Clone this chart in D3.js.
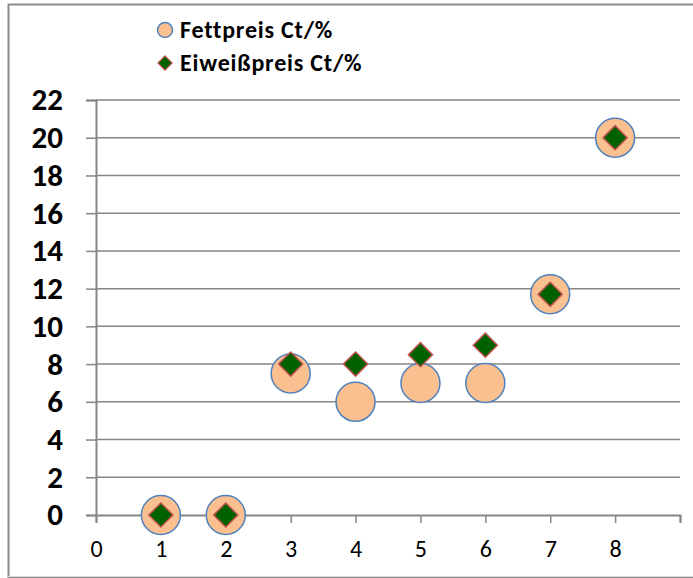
<!DOCTYPE html>
<html>
<head>
<meta charset="utf-8">
<script src="https://cdn.jsdelivr.net/npm/d3@7"></script>
<style>
  body { margin: 0; background: #fff; }
  svg text { font-family: Calibri, Carlito, "Liberation Sans", "Open Sans", sans-serif; }
</style>
</head>
<body>
<svg id="chart" width="693" height="578"></svg>
<script>
const xValues = [1, 2, 3, 4, 5, 6, 7, 8];
const fettpreis = [0, 0, 7.5, 6, 7, 7, 11.7, 20];
const eiweisspreis = [0, 0, 8, 8, 8.5, 9, 11.7, 20];
const seriesNames = ["Fettpreis Ct/%", "Eiweißpreis Ct/%"];
const xTicks = [0, 1, 2, 3, 4, 5, 6, 7, 8, 9];
const yTicks = [0, 2, 4, 6, 8, 10, 12, 14, 16, 18, 20, 22];

const svg = d3.select("#chart"),
      width = 693,
      height = 578;

const axisColor = "#868686";

// outer chart border
svg.append("rect")
  .attr("x", 8.5).attr("y", 4.5)
  .attr("width", 700).attr("height", 572.5)
  .attr("fill", "none")
  .attr("stroke", "#8c8c8c")
  .attr("stroke-width", 2);
svg.append("line")
  .attr("x1", 8).attr("x2", width)
  .attr("y1", 576.5).attr("y2", 576.5)
  .attr("stroke", "#d9d9d9");

const xScale = d3.scaleLinear().domain([0, 9]).range([96, 680]);
const yScale = d3.scaleLinear().domain([0, 22]).range([515, 100]);

// gridlines
svg.append("g")
  .selectAll("line")
  .data(yTicks.filter(d => d > 0))
  .enter()
  .append("line")
  .attr("x1", xScale(0)).attr("x2", xScale(9))
  .attr("y1", d => yScale(d)).attr("y2", d => yScale(d))
  .attr("stroke", axisColor)
  .attr("stroke-width", 1.5);

const yAxis = d3.axisLeft(yScale).tickValues(yTicks).tickSize(10).tickPadding(23);
const xAxis = d3.axisBottom(xScale).tickValues(xTicks).tickSize(8).tickPadding(17)
  .tickFormat(d => d === 9 ? "" : d);

const gy = svg.append("g")
  .attr("transform", `translate(${xScale(0)},0)`)
  .call(yAxis);
gy.selectAll("text")
  .attr("font-size", 31)
  .attr("font-weight", "bold")
  .attr("fill", "#000");

const gx = svg.append("g")
  .attr("transform", `translate(0,${yScale(0)})`)
  .call(xAxis);
gx.selectAll("text")
  .attr("font-size", 24)
  .attr("fill", "#000");

[gx, gy].forEach(g => {
  g.select(".domain").attr("stroke", axisColor).attr("stroke-width", 2);
  g.selectAll(".tick line").attr("stroke", axisColor).attr("stroke-width", 1.5);
});

const diamond = d3.symbol().type(d3.symbolSquare).size(290);

// Fettpreis circles
svg.append("g")
  .selectAll("circle")
  .data(xValues.map((x, i) => ({ x, y: fettpreis[i] })))
  .enter()
  .append("circle")
  .attr("cx", d => xScale(d.x))
  .attr("cy", d => yScale(d.y))
  .attr("r", 19.5)
  .attr("fill", "#fac090")
  .attr("stroke", "#4f81bd")
  .attr("stroke-width", 1.5);

// Eiweißpreis diamonds
svg.append("g")
  .selectAll("path")
  .data(xValues.map((x, i) => ({ x, y: eiweisspreis[i] })))
  .enter()
  .append("path")
  .attr("d", diamond)
  .attr("transform", d => `translate(${xScale(d.x)},${yScale(d.y)}) rotate(45)`)
  .attr("fill", "#006100")
  .attr("stroke", "#c0504d")
  .attr("stroke-width", 1.5);

// legend
const legend = svg.append("g");
legend.append("circle")
  .attr("cx", 165).attr("cy", 30).attr("r", 7.5)
  .attr("fill", "#fac090")
  .attr("stroke", "#4f81bd")
  .attr("stroke-width", 1.5);
legend.append("path")
  .attr("d", d3.symbol().type(d3.symbolSquare).size(100))
  .attr("transform", "translate(165,63) rotate(45)")
  .attr("fill", "#006100")
  .attr("stroke", "#c0504d")
  .attr("stroke-width", 1.2);
legend.selectAll("text")
  .data(seriesNames)
  .enter()
  .append("text")
  .attr("x", 180)
  .attr("y", (d, i) => 30 + i * 33)
  .attr("dy", "0.35em")
  .attr("font-size", 24)
  .attr("font-weight", "bold")
  .attr("letter-spacing", 0.8)
  .text(d => d);
</script>
</body>
</html>
